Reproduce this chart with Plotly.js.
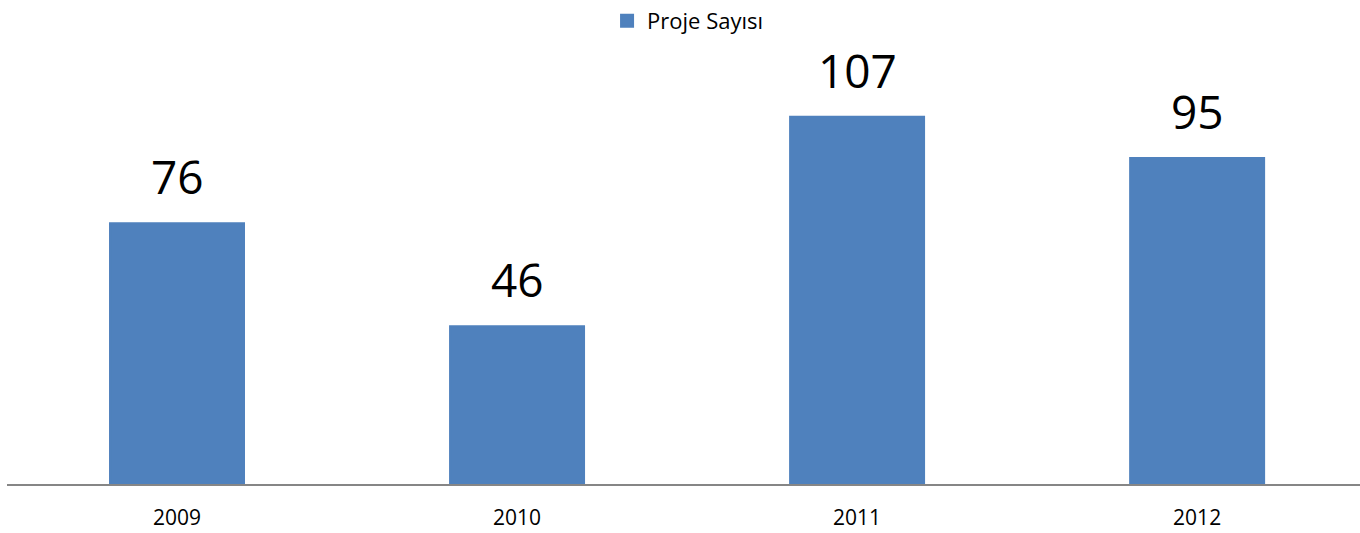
<!DOCTYPE html>
<html>
<head>
<meta charset="utf-8">
<script src="https://cdn.plot.ly/plotly-3.0.1.min.js"></script>
<style>html,body{margin:0;padding:0;background:#fff;}#chart{width:1360px;height:533px;}</style>
</head>
<body>
<div id="chart"></div>
<script>
const years = ['2009', '2010', '2011', '2012'];
const projeSayisi = [76, 46, 107, 95];
const seriesName = 'Proje Sayısı';

const xIdx = years.map((_, i) => i);

const trace = {
  type: 'bar',
  x: xIdx,
  y: projeSayisi,
  name: seriesName,
  width: 0.394,
  marker: {color: '#4F81BD', line: {color: '#4F81BD', width: 2}},
  showlegend: true,
  hoverinfo: 'none'
};

const annotations = xIdx.map((xi, i) => ({
  x: xi, y: projeSayisi[i], xref: 'x', yref: 'y',
  text: String(projeSayisi[i]),
  showarrow: false, yanchor: 'bottom', yshift: 14,
  font: {family: 'Open Sans, sans-serif', size: 46, color: '#000'}
}));

const layout = {
  width: 1360, height: 533,
  margin: {l: 7, r: 0, t: 40, b: 49, pad: 0},
  paper_bgcolor: '#fff', plot_bgcolor: '#fff',
  showlegend: true,
  legend: {orientation: 'h', x: 0.503, xanchor: 'center', y: 1, yref: 'container', yanchor: 'top',
           font: {family: 'Open Sans, sans-serif', size: 22, color: '#000'}, itemclick: false,
           itemwidth: 30},
  xaxis: {
    range: [-0.5, 3.479],
    tickmode: 'array', tickvals: xIdx, ticktext: years,
    showline: true, linecolor: '#868686', linewidth: 2,
    showgrid: false, zeroline: false, ticks: '',
    ticklabelstandoff: 14,
    tickfont: {family: 'Open Sans, sans-serif', size: 21, color: '#000'}
  },
  yaxis: {range: [0, 128.8], visible: false, showgrid: false, zeroline: false},
  annotations: annotations
};

Plotly.newPlot('chart', [trace], layout, {displayModeBar: false, staticPlot: true});
</script>
</body>
</html>
